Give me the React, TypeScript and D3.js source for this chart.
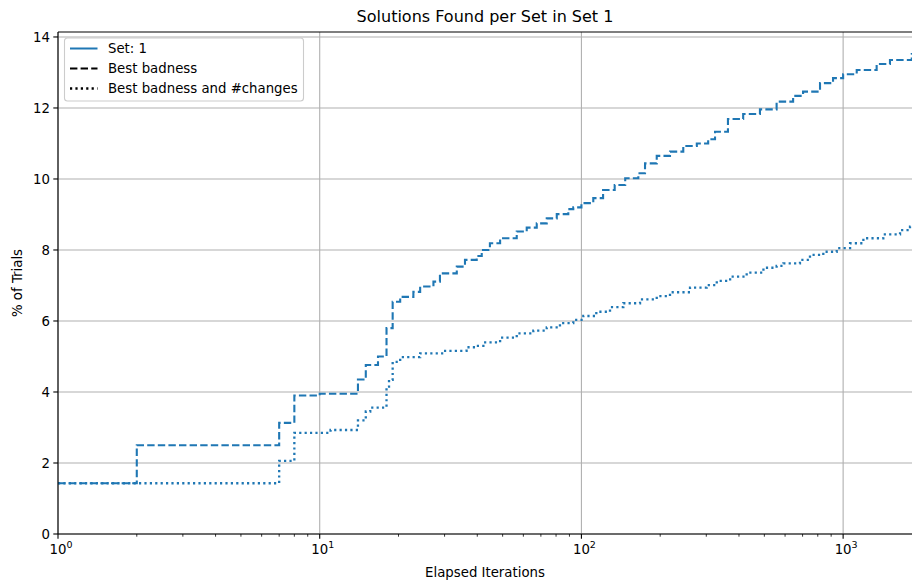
import { useEffect, useRef } from 'react';
import * as d3 from 'd3';

// step data (x = elapsed iterations, y = % of trials)
const iterBest = [1, 2, 7, 8, 10, 14, 15, 16.7, 18, 19, 20.3, 22.8, 24.2, 27.2, 28.8, 33.4, 35.9, 39.8, 41.6, 44.7, 48.9, 56.6, 61.8, 67.5, 73.7, 80.5, 89.1, 93.1, 100, 111, 121, 134, 147, 165, 175, 194, 218, 245, 276, 305, 324, 363, 415, 481, 557, 644, 703, 816, 915, 1000, 1127, 1343, 1510, 1829, 1833];
const pctBest = [1.43, 2.5, 3.13, 3.9, 3.95, 4.35, 4.76, 5.0, 5.8, 6.54, 6.68, 6.82, 6.97, 7.11, 7.34, 7.53, 7.72, 7.83, 8.0, 8.19, 8.33, 8.52, 8.63, 8.75, 8.89, 9.01, 9.15, 9.2, 9.32, 9.46, 9.69, 9.83, 10.02, 10.16, 10.44, 10.65, 10.77, 10.93, 11.0, 11.12, 11.33, 11.69, 11.83, 11.96, 12.18, 12.34, 12.46, 12.7, 12.84, 12.95, 13.07, 13.24, 13.35, 13.52, 13.52];

const iterBoth = [1, 7, 8, 11, 14, 15, 15.6, 18, 18.4, 19, 20.3, 24.2, 29.7, 36.4, 39.8, 42.2, 48.9, 56.6, 65.5, 73.7, 82.8, 93.1, 101.7, 114, 128.6, 144.6, 167.5, 194, 218, 260, 301, 329, 370, 428, 496, 557, 591, 684, 747, 840, 945, 1063, 1195, 1424, 1650, 1801, 1833];
const pctBoth = [1.43, 2.06, 2.85, 2.93, 3.2, 3.45, 3.56, 4.15, 4.34, 4.85, 4.98, 5.09, 5.16, 5.26, 5.3, 5.4, 5.53, 5.65, 5.73, 5.82, 5.94, 6.03, 6.14, 6.26, 6.39, 6.5, 6.61, 6.7, 6.81, 6.94, 7.01, 7.13, 7.25, 7.36, 7.5, 7.55, 7.62, 7.72, 7.86, 7.95, 8.05, 8.19, 8.33, 8.44, 8.56, 8.66, 8.66];

const yTicks = [0, 2, 4, 6, 8, 10, 12, 14];
const xDecades = [1, 10, 100, 1000];
const legendLabels = ['Set: 1', 'Best badness', 'Best badness and #changes'];

const BLUE = '#1f77b4';
const FONT = 'DejaVu Sans, sans-serif';
const DASHED = '7.4,3.2';
const DOTTED = '2.2,3.2';

const App = () => {
  const svgRef = useRef<SVGSVGElement>(null);

  useEffect(() => {
    const width = 912;
    const height = 581;
    const margin = { top: 32, right: 0, bottom: 47, left: 58 };

    const svg = d3.select(svgRef.current);
    svg.selectAll('*').remove();

    const x = d3.scaleLog().domain([1, 1833]).range([margin.left, width - margin.right]);
    const y = d3.scaleLinear().domain([0, 14.14]).range([height - margin.bottom, margin.top]);

    const x0 = margin.left, x1 = width - margin.right;
    const y0 = height - margin.bottom, y1 = margin.top;

    svg.append('defs').append('clipPath').attr('id', 'plot-clip')
      .append('rect').attr('x', x0).attr('y', y1).attr('width', x1 - x0).attr('height', y0 - y1);

    // grid
    const grid = svg.append('g');
    grid.selectAll('line.gx').data(xDecades).enter().append('line')
      .attr('x1', d => x(d)).attr('x2', d => x(d)).attr('y1', y0).attr('y2', y1)
      .attr('stroke', '#b0b0b0').attr('stroke-width', 1.1);
    grid.selectAll('line.gy').data(yTicks).enter().append('line')
      .attr('x1', x0).attr('x2', x1).attr('y1', d => y(d)).attr('y2', d => y(d))
      .attr('stroke', '#b0b0b0').attr('stroke-width', 1.1);

    // step lines
    const line = d3.line<[number, number]>()
      .x(d => x(d[0]))
      .y(d => y(d[1]))
      .curve(d3.curveStepAfter);

    const plot = svg.append('g').attr('clip-path', 'url(#plot-clip)');
    plot.append('path')
      .datum(iterBest.map((v, i) => [v, pctBest[i]] as [number, number]))
      .attr('d', line)
      .attr('fill', 'none').attr('stroke', BLUE).attr('stroke-width', 2.1)
      .attr('stroke-dasharray', DASHED);
    plot.append('path')
      .datum(iterBoth.map((v, i) => [v, pctBoth[i]] as [number, number]))
      .attr('d', line)
      .attr('fill', 'none').attr('stroke', BLUE).attr('stroke-width', 2.3)
      .attr('stroke-dasharray', DOTTED);

    // spines
    svg.append('line').attr('x1', x0).attr('x2', x0).attr('y1', y0).attr('y2', y1)
      .attr('stroke', '#000').attr('stroke-width', 1.1);
    svg.append('line').attr('x1', x0).attr('x2', x1).attr('y1', y0).attr('y2', y0)
      .attr('stroke', '#000').attr('stroke-width', 1.1);
    svg.append('line').attr('x1', x0).attr('x2', x1).attr('y1', y1).attr('y2', y1)
      .attr('stroke', '#000').attr('stroke-width', 1.1);

    // y axis ticks
    const yAxis = svg.append('g');
    yAxis.selectAll('line').data(yTicks).enter().append('line')
      .attr('x1', x0).attr('x2', x0 - 4.7).attr('y1', d => y(d)).attr('y2', d => y(d))
      .attr('stroke', '#000').attr('stroke-width', 1.1);
    yAxis.selectAll('text').data(yTicks).enter().append('text')
      .attr('x', x0 - 8).attr('y', d => y(d)).attr('dy', '0.35em')
      .attr('text-anchor', 'end').attr('font-family', FONT).attr('font-size', 13.3)
      .attr('fill', '#000').text(d => d);

    // x axis ticks, major + minor
    const minor: number[] = [];
    xDecades.forEach(dec => {
      for (let k = 2; k <= 9; k++) if (dec * k <= 1833) minor.push(dec * k);
    });
    const xAxis = svg.append('g');
    xAxis.selectAll('line.minor').data(minor).enter().append('line')
      .attr('x1', d => x(d)).attr('x2', d => x(d)).attr('y1', y0).attr('y2', y0 + 2.7)
      .attr('stroke', '#000').attr('stroke-width', 0.8);
    xAxis.selectAll('line.major').data(xDecades).enter().append('line')
      .attr('x1', d => x(d)).attr('x2', d => x(d)).attr('y1', y0).attr('y2', y0 + 4.7)
      .attr('stroke', '#000').attr('stroke-width', 1.1);
    const xl = xAxis.selectAll('text').data(xDecades).enter().append('text')
      .attr('x', d => x(d) + 3).attr('y', y0 + 20)
      .attr('text-anchor', 'middle').attr('font-family', FONT).attr('font-size', 13.3)
      .attr('fill', '#000');
    xl.append('tspan').text('10');
    xl.append('tspan').attr('dy', -6).attr('font-size', 9.5).text(d => Math.round(Math.log10(d)));

    // labels
    svg.append('text').attr('x', (x0 + x1) / 2).attr('y', 22)
      .attr('text-anchor', 'middle').attr('font-family', FONT).attr('font-size', 16)
      .text('Solutions Found per Set in Set 1');
    svg.append('text').attr('x', (x0 + x1) / 2).attr('y', 577)
      .attr('text-anchor', 'middle').attr('font-family', FONT).attr('font-size', 13.3)
      .text('Elapsed Iterations');
    svg.append('text').attr('transform', `translate(22,${(y0 + y1) / 2}) rotate(-90)`)
      .attr('text-anchor', 'middle').attr('font-family', FONT).attr('font-size', 13.3)
      .text('% of Trials');

    // legend
    const lg = svg.append('g').attr('transform', `translate(${x0 + 6.5},${y1 + 6})`);
    lg.append('rect').attr('width', 239).attr('height', 63).attr('rx', 3)
      .attr('fill', '#fff').attr('fill-opacity', 0.8)
      .attr('stroke', '#cccccc').attr('stroke-width', 1.1);
    const styles = [
      { color: BLUE, dash: null, w: 2 },
      { color: '#000', dash: DASHED, w: 2.1 },
      { color: '#000', dash: DOTTED, w: 2.3 },
    ];
    legendLabels.forEach((lab, i) => {
      const ry = 10.5 + i * 20;
      lg.append('line').attr('x1', 5.5).attr('x2', 33).attr('y1', ry).attr('y2', ry)
        .attr('stroke', styles[i].color).attr('stroke-width', styles[i].w)
        .attr('stroke-dasharray', styles[i].dash);
      lg.append('text').attr('x', 43.5).attr('y', ry).attr('dy', '0.35em')
        .attr('font-family', FONT).attr('font-size', 13.3).attr('fill', '#000')
        .text(lab);
    });
  }, []);

  return <svg ref={svgRef} width={912} height={581} style={{ position: 'absolute', left: 0, top: 0, background: '#fff' }} />;
};

export default App;
